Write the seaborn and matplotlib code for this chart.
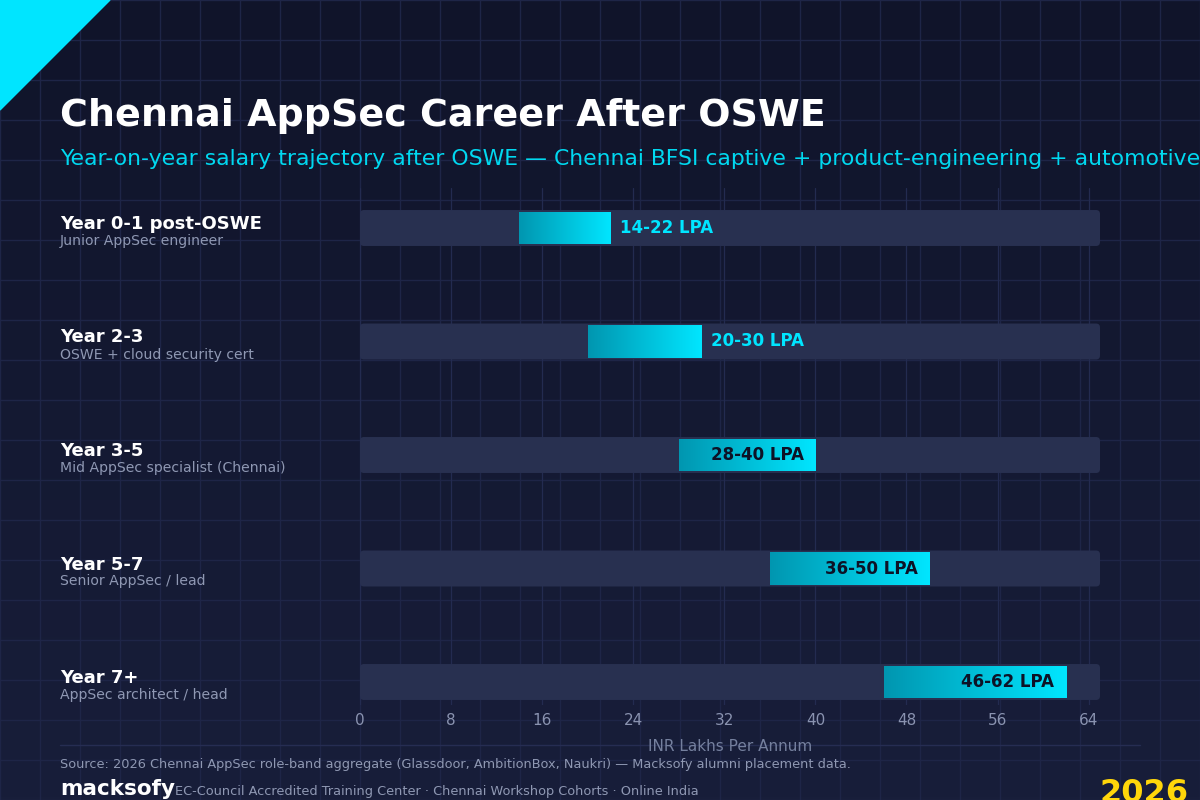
import numpy as np
import pandas as pd
import seaborn as sns
import matplotlib.pyplot as plt
from matplotlib.colors import LinearSegmentedColormap
from matplotlib.patches import Polygon, FancyBboxPatch

sns.set_theme(style="dark")
plt.rcParams['font.family'] = ['DejaVu Sans']

stages = ["Year 0-1 post-OSWE", "Year 2-3", "Year 3-5", "Year 5-7", "Year 7+"]
roles = ["Junior AppSec engineer", "OSWE + cloud security cert",
         "Mid AppSec specialist (Chennai)", "Senior AppSec / lead", "AppSec architect / head"]
low = [14, 20, 28, 36, 46]
high = [22, 30, 40, 50, 62]
axis_max = 65

df = pd.DataFrame({"stage": stages, "role": roles, "low": low, "high": high})
df["track"] = axis_max
df["label"] = [f"{a}-{b} LPA" for a, b in zip(low, high)]

W, H = 1200, 800
fig = plt.figure(figsize=(12, 8), dpi=100)

def fx(px):
    return px / W

def fy(py):
    return 1 - py / H

# background with gradient and pixel grid
bg = fig.add_axes([0, 0, 1, 1], zorder=-10)
bg.set_xlim(0, W)
bg.set_ylim(H, 0)
bg.axis("off")
grad = np.linspace(0, 1, 256).reshape(-1, 1)
bg_cmap = LinearSegmentedColormap.from_list("bg", ["#10142a", "#181e3a"])
bg.imshow(grad, extent=[0, W, H, 0], cmap=bg_cmap, aspect="auto", zorder=0)
for g in range(0, W + 1, 40):
    bg.axvline(g, color="#1e2547", lw=1, zorder=1)
for g in range(0, H + 1, 40):
    bg.axhline(g, color="#1e2547", lw=1, zorder=1)
bg.add_patch(Polygon([[0, 0], [110, 0], [0, 110]], closed=True,
                     color="#00e5ff", zorder=5))
bg.plot([60, 1140], [745, 745], color="#262d52", lw=1, zorder=2)
bg.set_xlim(0, W)
bg.set_ylim(H, 0)

# main chart
row_gap = 113.5
y_top, y_bot = -0.35, 4.2
ax_top_px = 228 + y_top * row_gap
ax_bot_px = 228 + y_bot * row_gap
ax = fig.add_axes([fx(360), fy(ax_bot_px), fx(1100) - fx(360), (ax_bot_px - ax_top_px) / H])
ax.set_facecolor("none")

sns.barplot(data=df, y="stage", x="track", orient="h", color="#283050",
            width=0.317, saturation=1, linewidth=0, ax=ax, zorder=2)

# round the track corners slightly
for p in list(ax.patches):
    x0, y0 = p.get_x(), p.get_y()
    w, h = p.get_width(), p.get_height()
    ax.add_patch(FancyBboxPatch((x0, y0), w, h,
                                boxstyle="round,pad=0,rounding_size=0.35",
                                mutation_aspect=0.1, fc="#283050", ec="none", zorder=2))
    p.set_visible(False)

ypos = np.arange(len(df))
bars = ax.barh(ypos, df["high"] - df["low"], left=df["low"], height=0.29,
               color="none", linewidth=0, zorder=3)
bar_cmap = LinearSegmentedColormap.from_list("bar", ["#0096b0", "#00e6ff"])
hgrad = np.linspace(0, 1, 256).reshape(1, -1)
for patch, lo, hi, y in zip(bars.patches, df["low"], df["high"], ypos):
    im = ax.imshow(hgrad, extent=[lo, hi, y + 0.145, y - 0.145], cmap=bar_cmap,
                   aspect="auto", zorder=3)
    im.set_clip_path(patch)

for y, lo, hi, lab in zip(ypos, df["low"], df["high"], df["label"]):
    if hi - lo >= 12:
        ax.text(hi - 1.0, y, lab, ha="right", va="center", fontsize=12,
                fontweight="bold", color="#0d1226", zorder=4)
    else:
        ax.text(hi + 0.8, y, lab, ha="left", va="center", fontsize=12,
                fontweight="bold", color="#00e5ff", zorder=4)

ax.set_xlim(0, axis_max)
ax.set_ylim(y_bot, y_top)
ax.set_xticks(range(0, 65, 8))
ax.set_yticks([])
ax.set_ylabel("")
ax.set_xlabel("INR Lakhs Per Annum", fontsize=11, color="#75809e", labelpad=8)
ax.tick_params(axis="x", length=0, labelsize=11, labelcolor="#8a93b0", pad=6)
ax.grid(axis="x", color="#232b50", lw=0.9, zorder=0)
ax.grid(axis="y", visible=False)
ax.set_axisbelow(True)
for s in ax.spines.values():
    s.set_visible(False)

# row labels
for y, st, rl in zip(ypos, df["stage"], df["role"]):
    cy = 228 + y * row_gap
    fig.text(fx(60), fy(cy + 1), st, fontsize=13, fontweight="bold",
             color="white", va="baseline")
    fig.text(fx(60), fy(cy + 17), rl, fontsize=10.1, color="#8f98b3", va="baseline")

# titles
fig.text(fx(60), fy(126), "Chennai AppSec Career After OSWE", fontsize=27.4,
         fontweight="bold", color="white", va="baseline")
fig.text(fx(60), fy(165),
         "Year-on-year salary trajectory after OSWE \u2014 Chennai BFSI captive + product-engineering + automotive",
         fontsize=15.75, color="#00d8f0", va="baseline")

# footer
fig.text(fx(60), fy(768),
         "Source: 2026 Chennai AppSec role-band aggregate (Glassdoor, AmbitionBox, Naukri) \u2014 Macksofy alumni placement data.",
         fontsize=9.25, color="#8f98b3", va="baseline")
fig.text(fx(60), fy(795), "macksofy", fontsize=15.5, fontweight="bold",
         color="white", va="baseline")
fig.text(fx(175), fy(795),
         "EC-Council Accredited Training Center \u00b7 Chennai Workshop Cohorts \u00b7 Online India",
         fontsize=9.25, color="#8f98b3", va="baseline")
fig.text(fx(1100), fy(802), "2026", fontsize=23, fontweight="bold",
         color="#ffd60a", va="baseline")

fig.savefig("out.png", dpi=100)
